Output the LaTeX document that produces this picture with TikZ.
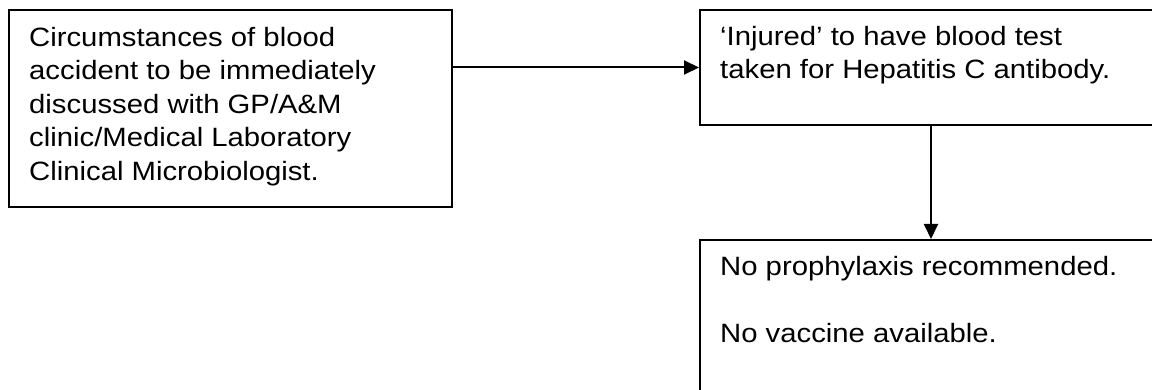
\documentclass[tikz,border=0pt]{standalone}
\usepackage{fontspec}
\setmainfont{Liberation Sans}[FakeStretch=1.105]
\usetikzlibrary{arrows.meta}
\tikzset{
  box/.style={draw=black, line width=2pt, rectangle, inner sep=0pt, anchor=north west},
  txt/.style={anchor=north west, inner sep=0pt, align=left,
    font=\fontsize{26.5}{33.5}\selectfont},
  arr/.style={line width=2pt, -{Triangle[length=15pt,width=14pt]}}
}
\begin{document}
\begin{tikzpicture}[x=1pt,y=-1pt]
\useasboundingbox (0,0) rectangle (1152,390);
\clip (0,0) rectangle (1152,390);
\node[box, minimum width=443pt, minimum height=197pt] (b1) at (8,9) {};
\node[box, minimum width=462pt, minimum height=115pt] (b2) at (699,9) {};
\node[box, minimum width=462pt, minimum height=170pt] (b3) at (699,239) {};
\node[txt] (t1) at (29,27) {Circumstances of blood\\accident to be immediately\\discussed with GP/A\&M\\clinic/Medical Laboratory\\Clinical Microbiologist.};
\node[txt] (t2) at (720,26) {‘Injured’ to have blood test\\taken for Hepatitis C antibody.};
\node[txt] (t3) at (720,256) {No prophylaxis recommended.\\[33.5pt]No vaccine available.};
\draw[arr] (b1.east |- b2.west) -- (b2.west);
\draw[arr] (b2.south) -- (b3.north);
\end{tikzpicture}
\end{document}
